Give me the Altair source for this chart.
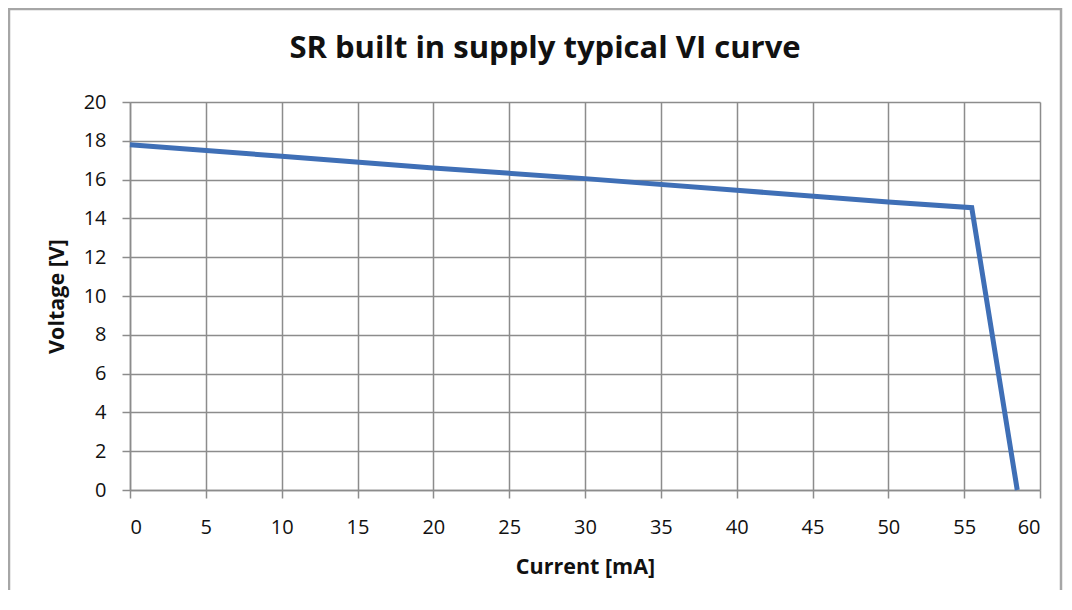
import altair as alt
import pandas as pd

current_ma = [0, 10, 20, 30, 40, 50, 55.5, 58.5]
voltage_v = [17.8, 17.2, 16.6, 16.05, 15.45, 14.85, 14.55, 0]
title_text = ["SR built in supply typical VI curve"]

df = pd.DataFrame({"Current": current_ma, "Voltage": voltage_v})

FONT = "Open Sans"
GRID = "#8c8c8c"

border = alt.Chart(pd.DataFrame({"a": [0]})).mark_rect(
    fill=None, stroke="#a6a6a6", strokeWidth=2.5, clip=False
).encode(
    x=alt.value(-121), x2=alt.value(931), y=alt.value(-93), y2=alt.value(530)
)

title = alt.Chart(pd.DataFrame({"t": title_text})).mark_text(
    font=FONT, fontSize=31, fontWeight="bold", color="#111111",
    align="center", baseline="middle"
).encode(x=alt.value(415), y=alt.value(-53), text="t:N")

line = alt.Chart(df).mark_line(color="#3f6fb6", strokeWidth=5).encode(
    x=alt.X("Current:Q", scale=alt.Scale(domain=[0, 60], nice=False),
            axis=alt.Axis(title="Current [mA]", values=list(range(0, 61, 5)),
                          tickSize=8, labelPadding=19, titlePadding=19)),
    y=alt.Y("Voltage:Q", scale=alt.Scale(domain=[0, 20], nice=False),
            axis=alt.Axis(title="Voltage [V]", values=list(range(0, 21, 2)),
                          tickSize=8, labelPadding=16, titlePadding=15)),
)

chart = alt.layer(border, title, line).properties(
    width=910, height=388,
    background="white",
    padding={"left": 122, "top": 94, "right": 24, "bottom": 100},
    autosize=alt.AutoSizeParams(type="none"),
).configure_view(stroke=None).configure_axis(
    grid=True, gridColor=GRID, gridWidth=1.5, gridOpacity=1,
    domainColor=GRID, domainWidth=1.5, tickColor=GRID, tickWidth=1.5,
    labelFont=FONT, labelFontSize=20, labelColor="#111111",
    titleFont=FONT, titleFontSize=21.5, titleFontWeight="bold", titleColor="#111111",
)

chart.save("out.html", embed_options={"renderer": "svg", "actions": False})
